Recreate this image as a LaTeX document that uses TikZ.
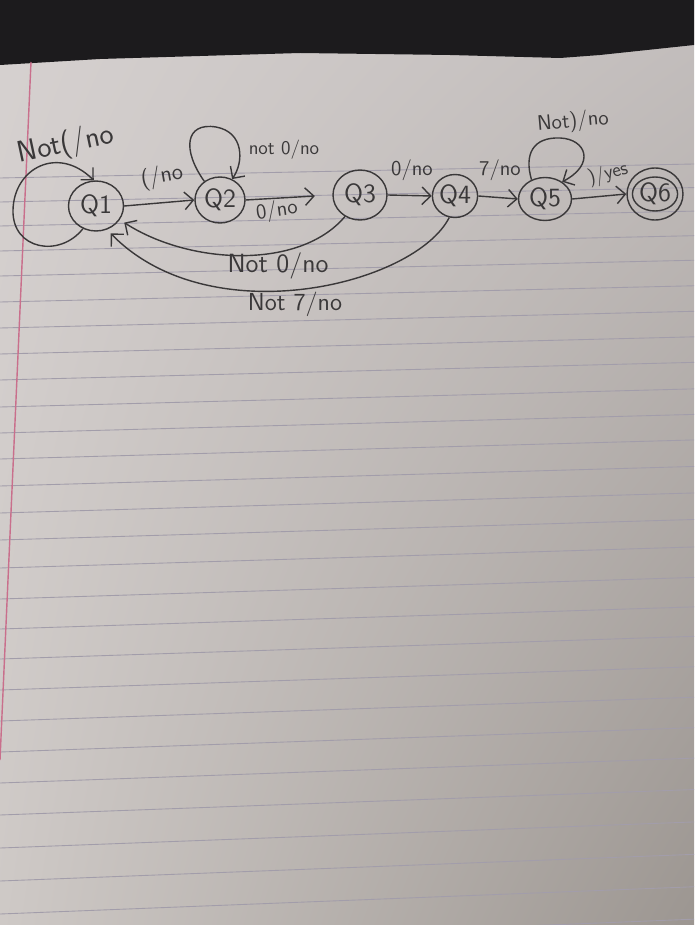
\documentclass[tikz,border=0pt]{standalone}
\usetikzlibrary{arrows.meta,shapes.geometric,shadings}

\definecolor{lead}{HTML}{3A3839}
\definecolor{desk}{HTML}{1C1B1D}
\definecolor{ruleline}{HTML}{A29DAA}
\definecolor{marginred}{HTML}{C96F8C}
\definecolor{paperUL}{RGB}{214,209,208}
\definecolor{paperUR}{RGB}{196,191,190}
\definecolor{paperLL}{RGB}{206,201,198}
\definecolor{paperLR}{RGB}{156,150,145}

\begin{document}
\begin{tikzpicture}[x=0.02cm,y=-0.02cm,
    pencil/.style={draw=lead, line width=0.8pt},
    state/.style={pencil, ellipse, inner sep=0pt, text=lead,
      font=\fontsize{15}{15}\selectfont\sffamily},
    lbl/.style={text=lead, inner sep=1pt, font=\fontsize{12}{12}\selectfont\sffamily},
    arr/.style={pencil, -{Straight Barb[length=5pt,width=10pt]}}]

      % the sheet
      \useasboundingbox (0,0) rectangle (694,925);
      \shade[upper left=paperUL, upper right=paperUR,
             lower left=paperLL, lower right=paperLR] (0,0) rectangle (694,925);
      \fill[desk] (0,0) -- (694,0) -- (694,45) -- (600,55) -- (560,58) -- (450,55)
        -- (300,53) -- (100,59) -- (0,65) -- cycle;

      \foreach \r in {176,200,224,249,274,300,326,352,378,405,431,457,484,511,538,566,
                      597,627,657,688,719,750,781,813,846,879,912,945} {
        \pgfmathsetmacro{\d}{14+0.018*(\r-176)}
        \draw[ruleline, line width=0.5pt] (0,\r+2) -- (694,\r+2-\d);
      }
      \draw[marginred, line width=0.8pt] (31,62) -- (0,760);

      % states
      \node[state, minimum width=1.1cm,  minimum height=1.0cm ](Q1) at ( 96,206){Q1};
      \node[state, minimum width=1.0cm,  minimum height=0.92cm](Q2) at (220,200){Q2};
      \node[state, minimum width=1.08cm, minimum height=1.0cm ](Q3) at (360,195){Q3};
      \node[state, minimum width=0.76cm, minimum height=0.86cm](Q4) at (455,196){Q4};
      \node[state, minimum width=1.06cm, minimum height=0.86cm](Q5) at (545,199){Q5};
      \node[state, minimum width=1.12cm, minimum height=1.04cm](Q6) at (655,194){};
      \node[state, minimum width=0.8cm,  minimum height=0.68cm](Q6in) at (Q6.center){Q6};

      % transitions
      \draw[arr] (Q1.east) -- (Q2.west);
      \draw[arr, shorten >=0.35cm] (Q2.east) -- (Q3.west);
      \draw[arr] (Q3.east) -- (Q4.west);
      \draw[arr] (Q4.east) -- (Q5.west);
      \draw[arr] (Q5.east) -- (Q6.west);

      \draw[arr] (Q1.240) .. controls (60,258) and (12,250) .. (13,210)
                          .. controls (14,168) and (58,145) .. (Q1.95);
      \draw[arr] (Q2.130) .. controls (182,150) and (185,122) .. (216,127)
                          .. controls (244,132) and (244,162) .. (Q2.60);
      \draw[arr] (Q5.125) .. controls (524,154) and (533,137) .. (560,138)
                          .. controls (586,139) and (596,164) .. (Q5.45);

      \draw[arr, shorten >=3pt] (Q3.235) .. controls (300,270) and (190,265) .. (Q1.-30);
      \draw[arr, shorten >=3pt] (Q4.255) .. controls (415,285) and (210,335) .. (Q1.-65);

      % labels
      \node[lbl, rotate=12, font=\fontsize{17}{17}\selectfont\sffamily](l11) at ( 66,145){Not(/no};
      \node[lbl, rotate=10, font=\fontsize{13}{13}\selectfont\sffamily](l12) at (162,177){(/no};
      \node[lbl, font=\fontsize{11}{11}\selectfont\sffamily](l22) at (284,150){not 0/no};
      \node[lbl, rotate=8](l23) at (277,211){0/no};
      \node[lbl](l34) at (412,170){0/no};
      \node[lbl](l45) at (500,170){7/no};
      \node[lbl, rotate=5](l55) at (573,122){Not)/no};
      \node[lbl, rotate=15, font=\fontsize{11}{11}\selectfont\sffamily](l56) at (608,174){)/yes};
      \node[lbl, font=\fontsize{15}{15}\selectfont\sffamily](l31) at (278,266){Not 0/no};
      \node[lbl, font=\fontsize{14}{14}\selectfont\sffamily](l41) at (295,304){Not 7/no};
    \end{tikzpicture}
\end{document}
